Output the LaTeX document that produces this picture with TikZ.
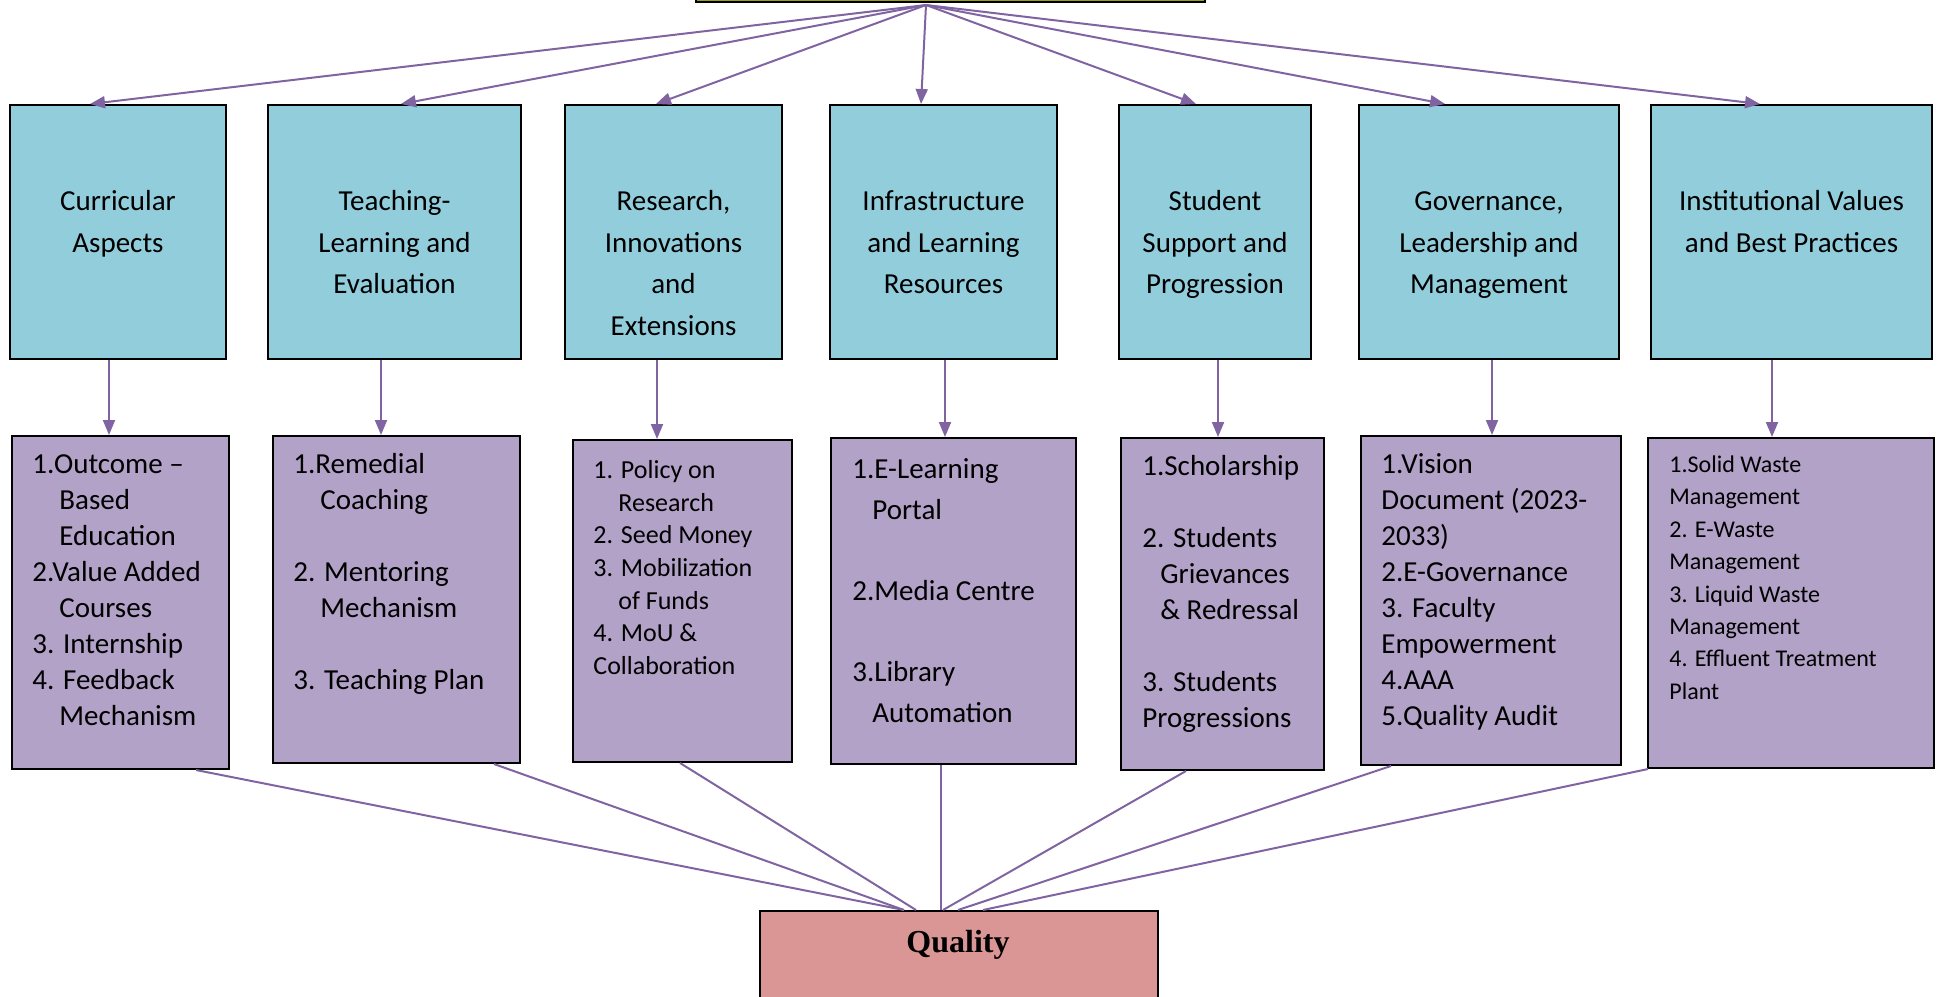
\documentclass[tikz,border=0pt]{standalone}
\usepackage{fontspec}
\setmainfont{Carlito}
\newfontfamily\tnr{Liberation Serif}
\usetikzlibrary{arrows.meta,calc}
\definecolor{blueF}{HTML}{92CDDC}
\definecolor{purpF}{HTML}{B2A2C7}
\definecolor{qualF}{HTML}{D99694}
\definecolor{lineC}{HTML}{8064A2}
\definecolor{oliveF}{HTML}{9C9C1E}
\newcommand\fblue{\fontsize{14.5}{20.85}\selectfont}
\newcommand\fpa{\fontsize{14.5}{18}\selectfont}
\newcommand\fpb{\fontsize{14.5}{20.35}\selectfont}
\newcommand\fpc{\fontsize{13}{16.35}\selectfont}
\newcommand\fpd{\fontsize{12}{16.2}\selectfont}
\newcommand\st{\rule{0pt}{12pt}}
\newcommand\ind[1]{\hspace*{#1}}
\tikzset{
  bbox/.style={draw=black, line width=1pt, fill=blueF, minimum height=127pt, anchor=north west, inner sep=0pt},
  pbox/.style={draw=black, line width=1pt, fill=purpF, anchor=north west, inner sep=0pt},
  qbox/.style={draw=black, line width=1pt, fill=qualF, anchor=north west, inner sep=0pt},
  topbox/.style={draw=black, line width=1pt, fill=oliveF, anchor=south west, inner sep=0pt},
  btext/.style={anchor=north, inner sep=0pt, align=center, font=\fblue},
  ptext/.style={anchor=north west, inner sep=0pt, align=left},
  arr/.style={draw=lineC, line width=1pt, -{Triangle[length=7.5pt,width=6pt]}},
  ln/.style={draw=lineC, line width=1pt},
}
\begin{document}
\begin{tikzpicture}[x=0.5pt,y=-0.5pt]
\useasboundingbox (0,0) rectangle (1937,996);
\clip (0,0) rectangle (1937,996);
% top box
\node[topbox, minimum width=254.5pt, minimum height=40pt] (top) at (695,3) {};
% blue boxes
\node[bbox, minimum width=108pt] (b1) at (9,104) {};
\node[bbox, minimum width=126.5pt] (b2) at (267,104) {};
\node[bbox, minimum width=108.5pt] (b3) at (564,104) {};
\node[bbox, minimum width=113.5pt] (b4) at (829,104) {};
\node[bbox, minimum width=96pt] (b5) at (1118,104) {};
\node[bbox, minimum width=130pt] (b6) at (1358,104) {};
\node[bbox, minimum width=140.5pt] (b7) at (1650,104) {};
% blue texts
\node[btext] (bt1) at ($(b1.north)+(0,82)$) {\st Curricular\\Aspects};
\node[btext] (bt2) at ($(b2.north)+(0,82)$) {\st Teaching-\\Learning and\\Evaluation};
\node[btext] (bt3) at ($(b3.north)+(0,82)$) {\st Research,\\Innovations\\and\\Extensions};
\node[btext] (bt4) at ($(b4.north)+(0,82)$) {\st Infrastructure\\and Learning\\Resources};
\node[btext] (bt5) at ($(b5.north)+(0,82)$) {\st Student\\Support and\\Progression};
\node[btext] (bt6) at ($(b6.north)+(0,82)$) {\st Governance,\\Leadership and\\Management};
\node[btext] (bt7) at ($(b7.north)+(0,82)$) {\st Institutional Values\\and Best Practices};
% purple boxes
\node[pbox, minimum width=108.5pt, minimum height=166.5pt] (p1) at (11,435) {};
\node[pbox, minimum width=123.5pt, minimum height=163.5pt] (p2) at (272,435) {};
\node[pbox, minimum width=109.5pt, minimum height=161pt] (p3) at (572,439) {};
\node[pbox, minimum width=122.5pt, minimum height=163pt] (p4) at (830,437) {};
\node[pbox, minimum width=101.5pt, minimum height=166pt] (p5) at (1120,437) {};
\node[pbox, minimum width=130pt, minimum height=164.5pt] (p6) at (1360,435) {};
\node[pbox, minimum width=143pt, minimum height=165pt] (p7) at (1647,437) {};
% purple texts
\node[ptext, font=\fpa] (pt1) at (32,449) {\st 1.Outcome –\\\ind{13.5pt}Based\\\ind{13.5pt}Education\\2.Value Added\\\ind{13.5pt}Courses\\3. Internship\\4. Feedback\\\ind{13.5pt}Mechanism};
\node[ptext, font=\fpa] (pt2) at (293,449) {\st 1.Remedial\\\ind{13.5pt}Coaching\\[18pt]2. Mentoring\\\ind{13.5pt}Mechanism\\[18pt]3. Teaching Plan};
\node[ptext, font=\fpc] (pt3) at (593,454) {\st 1. Policy on\\\ind{12.5pt}Research\\2. Seed Money\\3. Mobilization\\\ind{12.5pt}of Funds\\4. MoU \&\\Collaboration};
\node[ptext, font=\fpb] (pt4) at (852,454) {\st 1.E-Learning\\\ind{10pt}Portal\\[20.35pt]2.Media Centre\\[20.35pt]3.Library\\\ind{10pt}Automation};
\node[ptext, font=\fpa] (pt5) at (1142,451) {\st 1.Scholarship\\[18pt]2. Students\\\ind{9pt}Grievances\\\ind{9pt}\& Redressal\\[18pt]3. Students\\Progressions};
\node[ptext, font=\fpa] (pt6) at (1381,449) {\st 1.Vision\\Document (2023-\\2033)\\2.E-Governance\\3. Faculty\\Empowerment\\4.AAA\\5.Quality Audit};
\node[ptext, font=\fpd] (pt7) at (1669,448) {\st 1.Solid Waste\\Management\\2. E-Waste\\Management\\3. Liquid Waste\\Management\\4. Effluent Treatment\\Plant};
% quality box
\node[qbox, minimum width=199pt, minimum height=80pt] (q) at (759,910) {};
\node[anchor=base, inner sep=0pt, font=\tnr\bfseries\fontsize{16}{19}\selectfont] (qt) at (958,952) {Quality};
% top arrows
\coordinate (o) at ($(top.south)+(-24.5,2)$);
\draw[arr] (o) -- ($(b1.north)+(-28,0)$);
\draw[arr] (o) -- ($(b2.north)+(6.5,0)$);
\draw[arr] (o) -- ($(b3.north)+(-17.5,0)$);
\draw[arr] (o) -- ($(b4.north)+(-22.5,0)$);
\draw[arr] (o) -- ($(b5.north)+(-19,0)$);
\draw[arr] (o) -- ($(b6.north)+(-44,0)$);
\draw[arr] (o) -- ($(b7.north)+(-31.5,0)$);
% vertical arrows
\draw[arr] ($(b1.south)+(-9,0)$) coordinate (v1) -- (v1 |- p1.north);
\draw[arr] ($(b2.south)+(-13.5,0)$) coordinate (v2) -- (v2 |- p2.north);
\draw[arr] ($(b3.south)+(-16.5,0)$) coordinate (v3) -- (v3 |- p3.north);
\draw[arr] ($(b4.south)+(1.5,0)$) coordinate (v4) -- (v4 |- p4.north);
\draw[arr] ($(b5.south)+(3,0)$) coordinate (v5) -- (v5 |- p5.north);
\draw[arr] ($(b6.south)+(3,0)$) coordinate (v6) -- (v6 |- p6.north);
\draw[arr] ($(b7.south)+(-19.5,0)$) coordinate (v7) -- (v7 |- p7.north);
% lines to quality
\draw[ln] ($(p1.south)+(75.5,0)$) -- ($(q.north)+(-55,0)$);
\draw[ln] ($(p2.south)+(97.5,0)$) -- ($(q.north)+(-55,0)$);
\draw[ln] ($(p3.south)+(-2.5,0)$) -- ($(q.north)+(-43,0)$);
\draw[ln] ($(p4.south)+(-12.5,0)$) coordinate (w4) -- (w4 |- q.north);
\draw[ln] ($(p5.south)+(-36.5,0)$) -- ($(q.north)+(-16,0)$);
\draw[ln] ($(p6.south)+(-100,0)$) -- ($(q.north)+(-1,0)$);
\draw[ln] ($(p7.south)+(-143,0)$) -- ($(q.north)+(24,0)$);
\end{tikzpicture}
\end{document}
